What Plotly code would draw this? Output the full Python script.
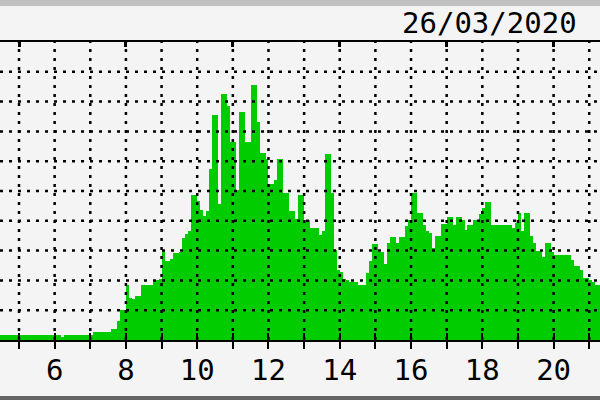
import plotly.graph_objects as go

# ---- data (5-minute samples, starting 04:25) ----
start_hour = 4 + 25 / 60
sample_minutes = 5
traffic = [
    # 04:25 - 07:59
    0.17, 0.17, 0.17, 0.17, 0.17, 0.17, 0.17, 0.17, 0.17, 0.17, 0.17,
    0.17, 0.17, 0.17, 0.17, 0.17, 0.17, 0.17, 0.17, 0.17, 0.17,
    0.10,
    0.17, 0.17, 0.17, 0.17, 0.17, 0.17, 0.17, 0.17, 0.17, 0.17,
    0.26, 0.26, 0.26, 0.26, 0.26, 0.26,
    0.36, 0.36, 0.65, 1.01, 1.01,
    # 08:00
    1.85, 1.40, 1.37, 1.46, 1.46, 1.85, 1.85, 1.85, 1.85, 2.03, 2.03, 2.05,
    # 09:00
    2.97, 2.66, 2.66, 2.72, 2.92, 2.92, 2.95, 3.42, 3.57, 3.65, 4.85, 4.85,
    # 10:00
    4.66, 4.35, 4.15, 4.34, 5.75, 7.55, 7.55, 4.55, 8.25, 8.25, 7.86, 6.64,
    # 11:00
    6.64, 5.05, 7.65, 7.65, 6.66, 6.66, 8.55, 8.55, 7.30, 6.26, 6.26, 6.06,
    # 12:00
    5.25, 5.25, 5.36, 6.06, 6.06, 4.94, 4.94, 4.34, 4.34, 4.06, 4.85, 4.85,
    # 13:00
    4.04, 4.04, 3.76, 3.76, 3.76, 3.51, 3.65, 6.23, 6.23, 4.94, 3.03, 2.36,
    # 14:00
    2.27, 2.04, 2.00, 1.94, 1.94, 1.94, 1.85, 1.85, 1.85, 2.25, 2.64, 3.23,
    # 15:00
    3.23, 2.95, 2.95, 2.55, 3.26, 3.44, 3.44, 3.26, 3.46, 3.46, 3.84, 4.04,
    # 16:00
    4.94, 4.94, 4.26, 4.26, 3.85, 3.65, 3.59, 3.09, 3.48, 3.48, 3.90, 3.90,
    # 17:00
    4.13, 4.13, 3.87, 4.13, 4.13, 4.04, 3.68, 3.87, 3.87, 4.03, 4.03, 4.23,
    # 18:00
    4.43, 4.64, 4.64, 3.87, 3.87, 3.87, 3.87, 3.87, 3.87, 3.87, 3.76, 3.93,
    # 19:00
    4.25, 3.65, 4.25, 4.25, 3.48, 3.26, 2.97, 2.97, 2.80, 3.26, 3.26, 2.95,
    # 20:00
    2.84, 2.84, 2.84, 2.84, 2.84, 2.84, 2.69, 2.49, 2.49, 2.36, 2.08, 2.08,
    # 21:00
    2.00, 1.93, 1.85, 1.85,
]
hour_ticks = [5, 6, 7, 8, 9, 10, 11, 12, 13, 14, 15, 16, 17, 18, 19, 20, 21]
hour_labels = ["", "6", "", "8", "", "10", "", "12", "", "14", "", "16", "", "18", "", "20", ""]
top_ticks = [5, 8, 11, 14, 17, 20]
grid_levels = [1, 2, 3, 4, 5, 6, 7, 8, 9]
date_text = "26/03/2020"

x_centers = [start_hour + (i + 0.5) * sample_minutes / 60 for i in range(len(traffic))]

# ---- layout constants ----
W, H = 600, 400
PLOT_TOP, PLOT_BOTTOM = 42, 340
x_range = [4.467, 21.302]
BG = "#f4f4f4"
GREEN = "#00cc00"
FONT = "DejaVu Sans Mono"


def py(pixel_y):
    return (PLOT_BOTTOM - pixel_y) / (PLOT_BOTTOM - PLOT_TOP)


fig = go.Figure()
fig.add_bar(x=x_centers, y=traffic, width=sample_minutes / 60,
            marker=dict(color=GREEN, line=dict(width=0)), hoverinfo="skip")
fig.add_scatter(x=[x_range[0]], y=[0], xaxis="x2", mode="markers",
                marker=dict(opacity=0), hoverinfo="skip")
fig.add_scatter(x=[x_range[0]], y=[0], xaxis="x3", mode="markers",
                marker=dict(opacity=0), hoverinfo="skip")

shapes = []
# top light band and bottom dark band
shapes.append(dict(type="rect", xref="paper", yref="paper", x0=0, x1=1,
                   y0=py(6), y1=py(-2), fillcolor="#c0c0c0", line=dict(width=0),
                   layer="above"))
shapes.append(dict(type="rect", xref="paper", yref="paper", x0=0, x1=1,
                   y0=py(402), y1=py(396), fillcolor="#646464", line=dict(width=0),
                   layer="above"))
# dotted grid above the area
for h in hour_ticks:
    shapes.append(dict(type="line", xref="x", yref="y", x0=h, x1=h, y0=0, y1=10,
                       layer="above", line=dict(color="black", width=2.5, dash="3px,6px")))
for v in grid_levels:
    shapes.append(dict(type="line", xref="paper", yref="y", x0=0, x1=1, y0=v, y1=v,
                       layer="above", line=dict(color="black", width=2.5, dash="3px,6px")))

fig.update_layout(
    width=W, height=H,
    margin=dict(l=0, r=0, t=PLOT_TOP, b=H - PLOT_BOTTOM, pad=0),
    paper_bgcolor=BG, plot_bgcolor=BG,
    showlegend=False, bargap=0,
    xaxis=dict(range=x_range, tickmode="array", tickvals=hour_ticks, ticktext=hour_labels,
               ticks="outside", ticklen=7, tickwidth=2, tickcolor="black",
               ticklabelstandoff=-4,
               showline=True, linewidth=2, linecolor="black", mirror=True,
               showgrid=False, zeroline=False, layer="above traces",
               tickfont=dict(family=FONT, size=29, color="black")),
    xaxis2=dict(range=x_range, overlaying="x", anchor="y", side="bottom",
                tickmode="array", tickvals=hour_ticks, ticks="inside", ticklen=7,
                tickwidth=2, tickcolor="black", showticklabels=False,
                showgrid=False, showline=False, zeroline=False, layer="above traces"),
    xaxis3=dict(range=x_range, overlaying="x", anchor="y", side="top",
                tickmode="array", tickvals=top_ticks, ticks="inside", ticklen=5,
                tickwidth=3, tickcolor="black", showticklabels=False,
                showgrid=False, showline=False, zeroline=False, layer="above traces"),
    yaxis=dict(range=[0, 10], showticklabels=False, showgrid=False, zeroline=False,
               showline=False, ticks=""),
    shapes=shapes,
    annotations=[dict(text=date_text, xref="paper", yref="paper", x=400 / W, y=py(23),
                      xanchor="left", yanchor="middle", showarrow=False,
                      font=dict(family=FONT, size=29, color="black"))],
)

fig.write_html("out.html", config={"displayModeBar": False},
               post_script="document.body.style.margin='0';document.body.style.background='%s';" % BG)
